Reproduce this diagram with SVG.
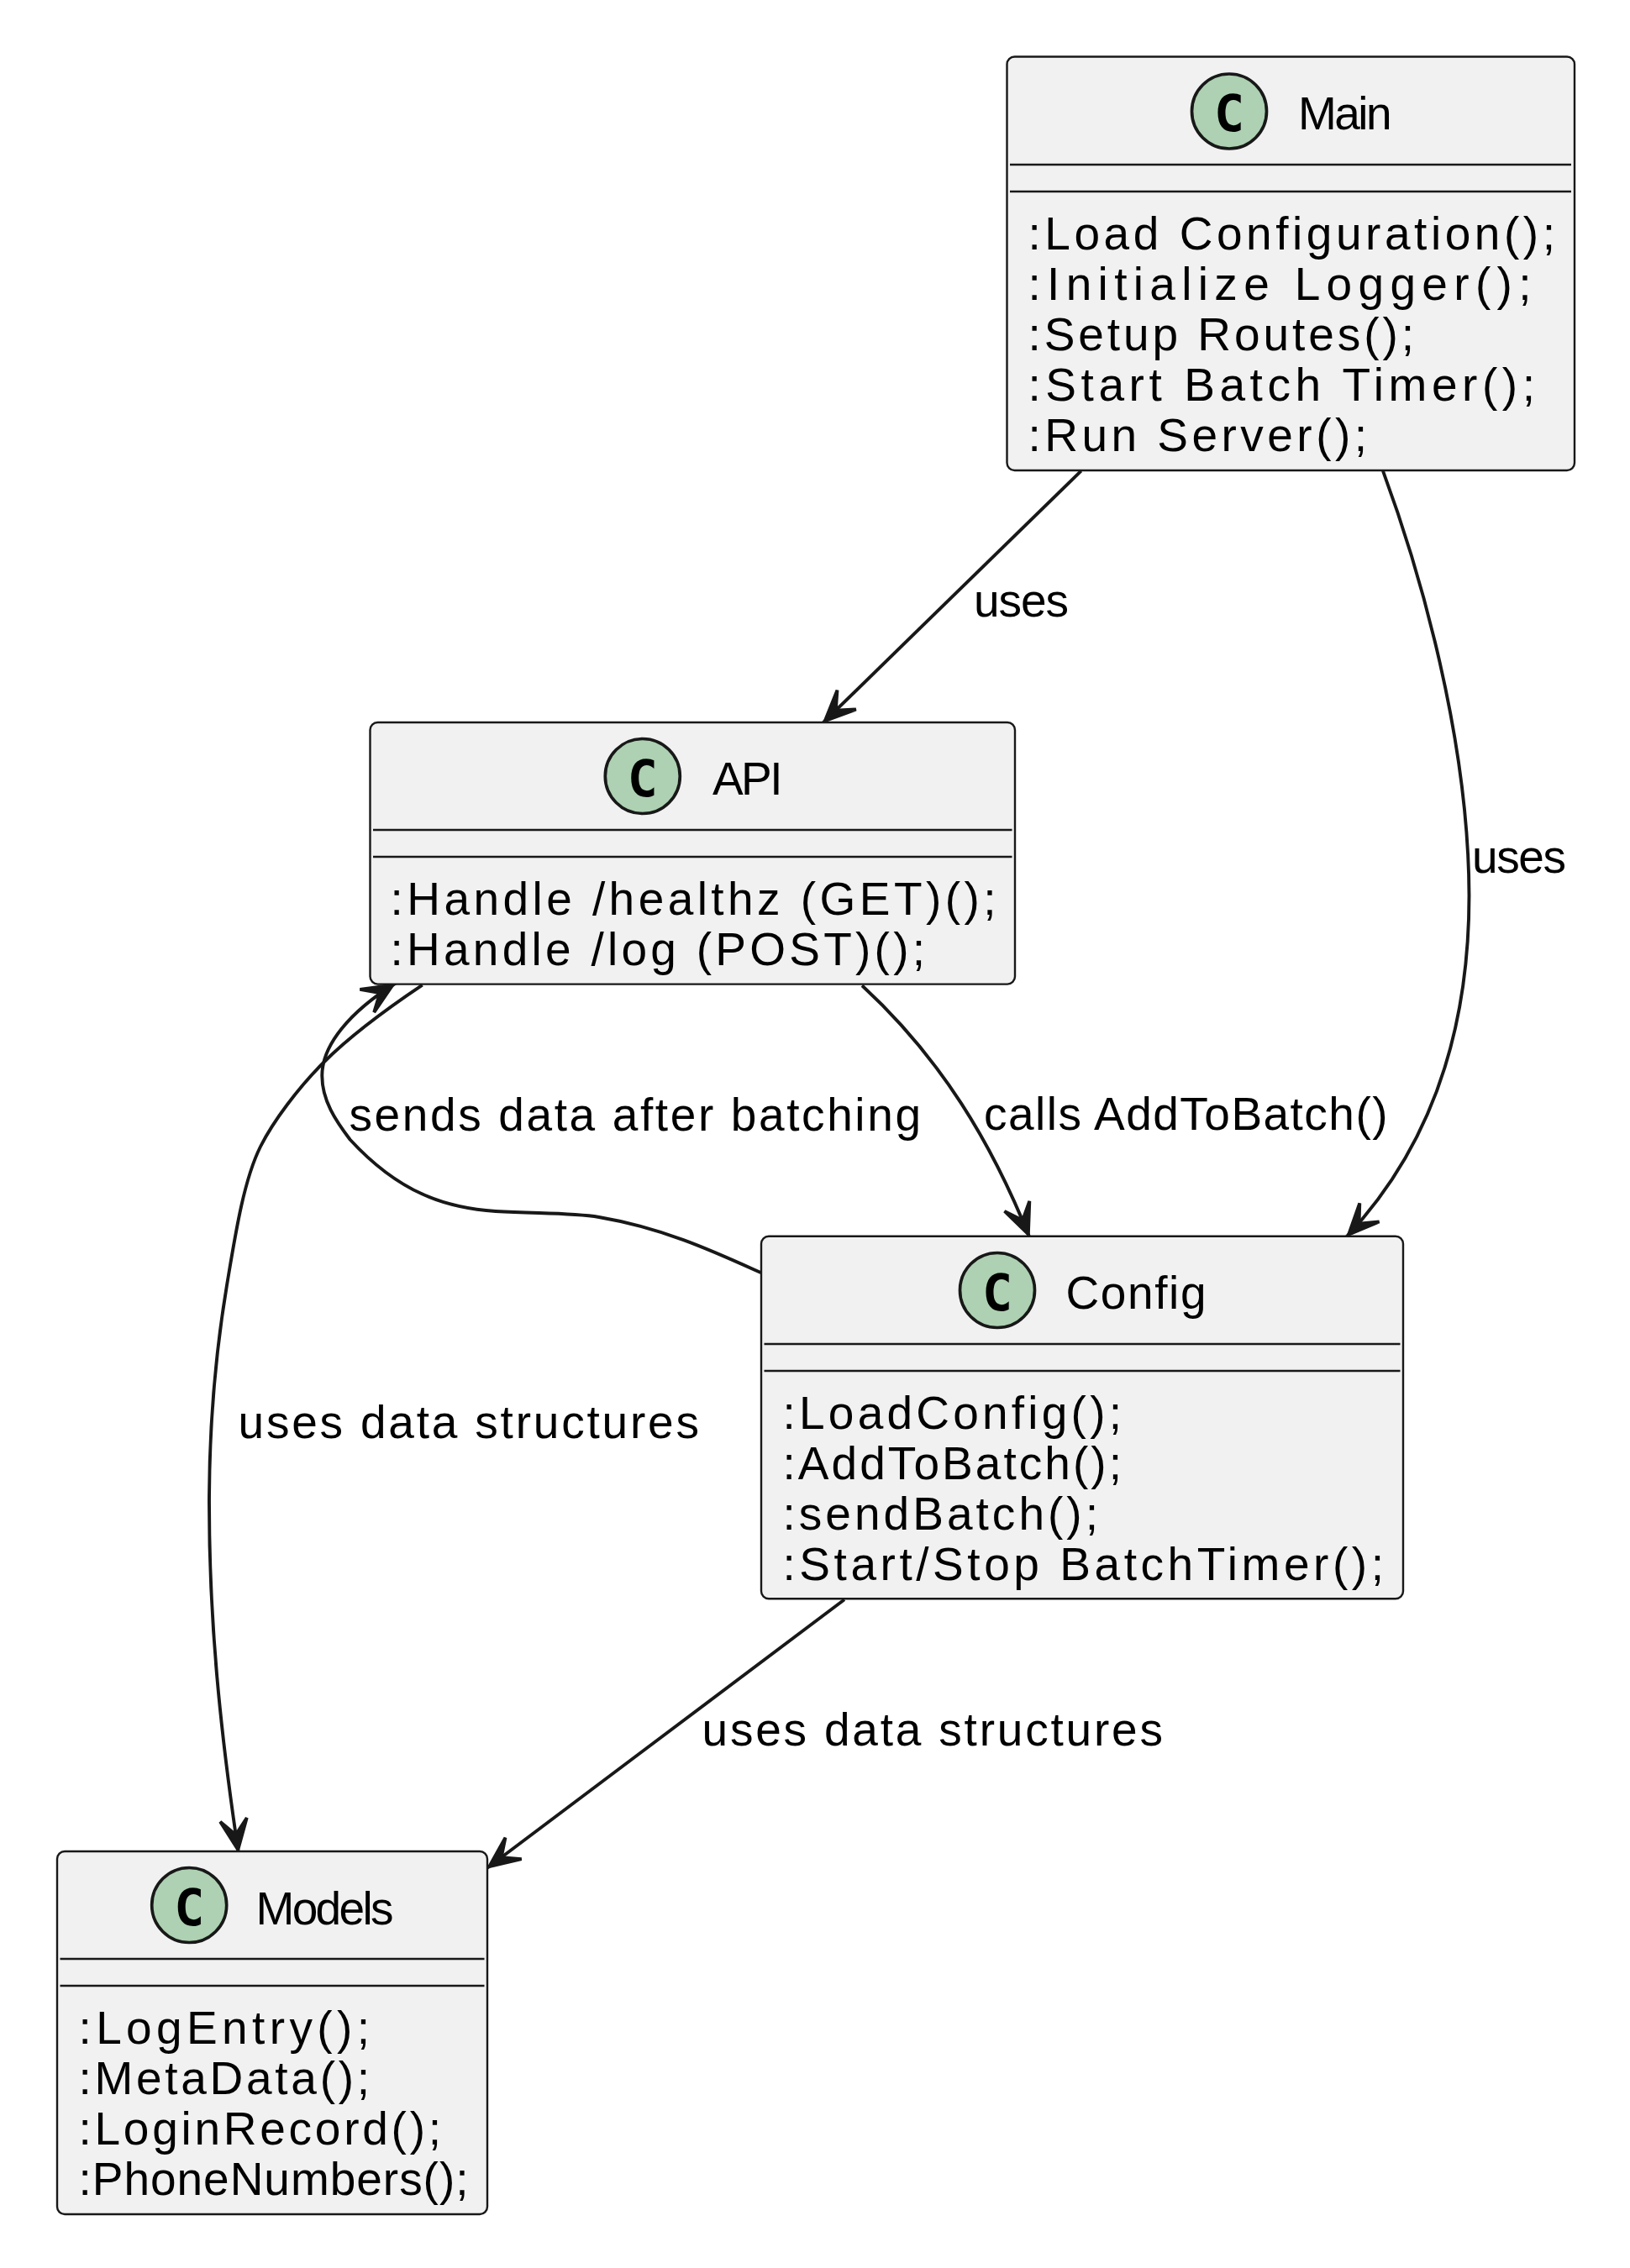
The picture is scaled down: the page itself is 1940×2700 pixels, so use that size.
<svg xmlns="http://www.w3.org/2000/svg" width="1940" height="2700" viewBox="0 0 1940 2700">
<style>
.box{fill:#F1F1F1;stroke:#181818;stroke-width:2.4}
.sep{stroke:#181818;stroke-width:2.4;fill:none}
.spot{fill:#ADD1B2;stroke:#181818;stroke-width:3.7}
.glyph{font-family:"DejaVu Sans Mono",monospace;font-weight:700;font-size:60px;fill:#000;text-anchor:middle}
text.t{font-family:"Liberation Sans",Arial,sans-serif;font-size:55px;fill:#000}
.edge{fill:none;stroke:#181818;stroke-width:3.9}
</style>
<defs>
<marker id="arrow" markerUnits="userSpaceOnUse" markerWidth="60" markerHeight="44" refX="50" refY="22" orient="auto" overflow="visible">
<polygon points="45,22 9,6 27,22 9,38" fill="#181818" stroke="#181818" stroke-width="3.9"/>
</marker>
</defs>
<g id="connectors">
<path class="edge" marker-end="url(#arrow)" d="M1286.7,560.7 L978.3,861.7"/>
<path class="edge" marker-end="url(#arrow)" d="M1646,560.7 C1690,680 1748,880 1748.5,1066 C1748.5,1250 1690,1380 1601.7,1473.3"/>
<path class="edge" marker-end="url(#arrow)" d="M1026,1173.3 C1120,1260 1180,1360 1225.7,1474"/>
<path class="edge" marker-end="url(#arrow)" d="M905.5,1515 C850,1490 790,1462 713,1449 C680,1443.5 640,1445 590,1442 C530,1438 475,1420 416.7,1356.7 C400,1335 383,1310 383.3,1280 C383.5,1245 415,1205 471.7,1170"/>
<path class="edge" marker-end="url(#arrow)" d="M502.7,1172.7 C450,1208 410,1240 385,1265 C355,1295 325,1335 310,1365 C290,1405 280,1470 270,1530 C255,1620 249,1700 249,1790 C249,1930 262,2060 284,2207"/>
<path class="edge" marker-end="url(#arrow)" d="M1005,1904.3 L578.3,2225"/>
<text class="t" x="1159" y="733.5" textLength="113" lengthAdjust="spacing">uses</text>
<text class="t" x="1752" y="1039" textLength="112" lengthAdjust="spacing">uses</text>
<text class="t" x="415.5" y="1345.5" textLength="680.5" lengthAdjust="spacing">sends data after batching</text>
<text class="t" x="1171" y="1345" textLength="480.5" lengthAdjust="spacing">calls AddToBatch()</text>
<text class="t" x="283.5" y="1711.5" textLength="548.5" lengthAdjust="spacing">uses data structures</text>
<text class="t" x="835.5" y="2077.5" textLength="548.5" lengthAdjust="spacing">uses data structures</text>
</g>
<g id="Main">
<rect class="box" x="1198.5" y="67.5" width="675.5" height="492.5" rx="9" ry="9"/>
<ellipse class="spot" cx="1463" cy="132.5" rx="44.5" ry="44.5"/>
<text class="glyph" x="1463" y="156">C</text>
<text class="t" x="1545" y="154" textLength="111.5" lengthAdjust="spacing">Main</text>
<path class="sep" d="M1202,196H1870M1202,228H1870"/>
<text class="t" x="1223.5" y="296.5" textLength="627.5" lengthAdjust="spacing">:Load Configuration();</text>
<text class="t" x="1223.5" y="356.5" textLength="599" lengthAdjust="spacing">:Initialize Logger();</text>
<text class="t" x="1223.5" y="416.5" textLength="459.5" lengthAdjust="spacing">:Setup Routes();</text>
<text class="t" x="1223.5" y="476.5" textLength="603.5" lengthAdjust="spacing">:Start Batch Timer();</text>
<text class="t" x="1223.5" y="536.5" textLength="403.5" lengthAdjust="spacing">:Run Server();</text>
</g>
<g id="API">
<rect class="box" x="440.5" y="860" width="767.5" height="311.6" rx="9" ry="9"/>
<ellipse class="spot" cx="764.8" cy="924" rx="44.5" ry="44.5"/>
<text class="glyph" x="764.8" y="947.5">C</text>
<text class="t" x="848" y="946" textLength="83.5" lengthAdjust="spacing">API</text>
<path class="sep" d="M444,988H1204.5M444,1020H1204.5"/>
<text class="t" x="464.5" y="1088.5" textLength="721" lengthAdjust="spacing">:Handle /healthz (GET)();</text>
<text class="t" x="464.5" y="1148.5" textLength="636.5" lengthAdjust="spacing">:Handle /log (POST)();</text>
</g>
<g id="Config">
<rect class="box" x="906" y="1471.7" width="764" height="431.6" rx="9" ry="9"/>
<ellipse class="spot" cx="1187" cy="1536" rx="44.5" ry="44.5"/>
<text class="glyph" x="1187" y="1559.5">C</text>
<text class="t" x="1268.5" y="1558" textLength="167" lengthAdjust="spacing">Config</text>
<path class="sep" d="M909.5,1600H1666.5M909.5,1632H1666.5"/>
<text class="t" x="931.5" y="1700.5" textLength="403.5" lengthAdjust="spacing">:LoadConfig();</text>
<text class="t" x="931.5" y="1760.5" textLength="403.5" lengthAdjust="spacing">:AddToBatch();</text>
<text class="t" x="931.5" y="1820.5" textLength="375.5" lengthAdjust="spacing">:sendBatch();</text>
<text class="t" x="931.5" y="1880.5" textLength="715.5" lengthAdjust="spacing">:Start/Stop BatchTimer();</text>
</g>
<g id="Models">
<rect class="box" x="68" y="2204" width="512" height="432" rx="9" ry="9"/>
<ellipse class="spot" cx="225.2" cy="2268" rx="44.5" ry="44.5"/>
<text class="glyph" x="225.2" y="2291.5">C</text>
<text class="t" x="304.5" y="2290.5" textLength="164" lengthAdjust="spacing">Models</text>
<path class="sep" d="M71.5,2332H576.5M71.5,2364H576.5"/>
<text class="t" x="93.5" y="2432.8" textLength="346.5" lengthAdjust="spacing">:LogEntry();</text>
<text class="t" x="93.5" y="2492.8" textLength="346.5" lengthAdjust="spacing">:MetaData();</text>
<text class="t" x="93.5" y="2552.8" textLength="431.5" lengthAdjust="spacing">:LoginRecord();</text>
<text class="t" x="93.5" y="2612.8" textLength="464" lengthAdjust="spacing">:PhoneNumbers();</text>
</g>
</svg>
